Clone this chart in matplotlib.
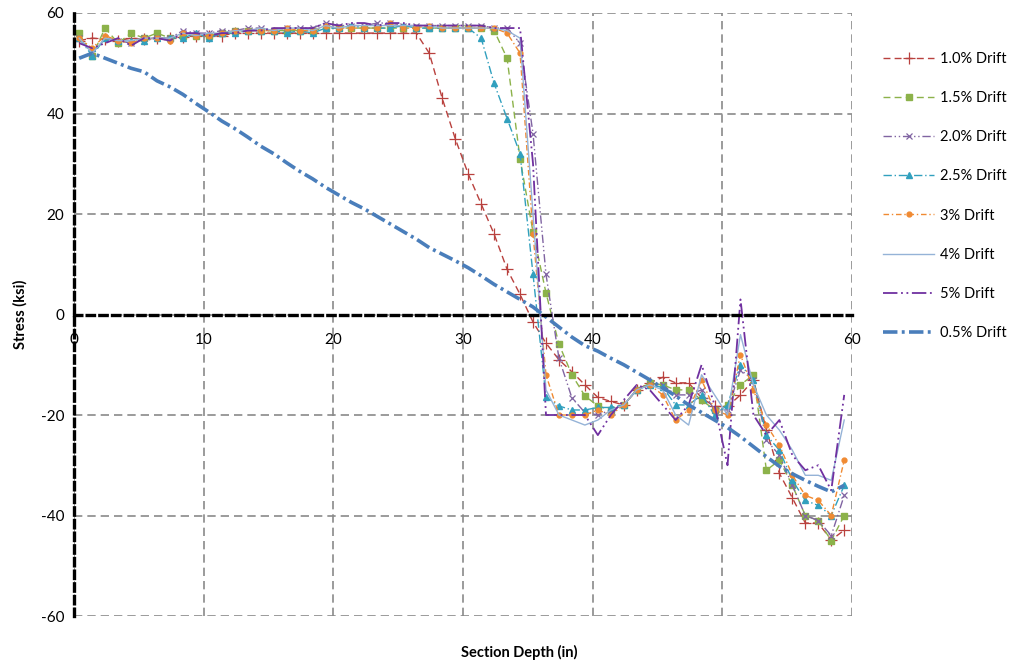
import numpy as np
import matplotlib
matplotlib.use("Agg")
import matplotlib.pyplot as plt

plt.rcParams['font.family'] = ['Lato', 'DejaVu Sans']
plt.rcParams['axes.unicode_minus'] = False

# section depth positions (in)
depth = [0.4, 1.4, 2.4, 3.4, 4.4, 5.4, 6.4, 7.4, 8.4, 9.4,
         10.4, 11.4, 12.4, 13.4, 14.4, 15.4, 16.4, 17.4, 18.4, 19.4,
         20.4, 21.4, 22.4, 23.4, 24.4, 25.4, 26.4, 27.4, 28.4, 29.4,
         30.4, 31.4, 32.4, 33.4, 34.4, 35.4, 36.4, 37.4, 38.4, 39.4,
         40.4, 41.4, 42.4, 43.4, 44.4, 45.4, 46.4, 47.4, 48.4, 49.4,
         50.4, 51.4, 52.4, 53.4, 54.4, 55.4, 56.4, 57.4, 58.4, 59.4]

# stress (ksi) per drift level
drift_10 = [54.5, 55, 54.8, 54.5, 55, 54.8, 55, 55, 55.2, 55.5,
            55.5, 55.5, 56, 56, 56, 56, 56, 56, 56, 56,
            56, 56, 56, 56, 56, 56, 56, 52, 43, 35,
            28, 22, 16, 9, 4, -1.5, -5.7, -9, -11.4, -14,
            -16.5, -17.3, -18, -15, -13.6, -12.5, -13.6, -13.6, -16.6, -18.3,
            -18.3, -16, -13, -23, -31.6, -36.5, -41.5, -41.5, -44.9, -42.9]
drift_15 = [56, 51.5, 57, 54, 56, 55, 56, 55, 55.5, 55.5,
            55.5, 56, 56.5, 56.5, 56.5, 56.5, 56.5, 56.5, 56.5, 57,
            57, 57, 57, 57, 57, 57, 57, 57, 57, 57,
            57, 57, 56.5, 51, 31, 16.4, 4.3, -5.9, -12, -16.2,
            -18.2, -19, -18, -15, -13.7, -14, -15, -15, -17, -19,
            -18, -14, -12, -31, -29, -34, -40, -41, -45, -40]
drift_20 = [55, 52, 55, 54.5, 54, 55, 55, 55, 56.5, 56,
            56, 56.5, 56.5, 57, 57, 56.5, 57, 57, 57, 58,
            57.5, 57.5, 57.5, 58, 58, 57.5, 57.5, 57.5, 57.5, 57.5,
            57.5, 57.5, 57, 57, 54, 36, 8, -8.7, -16.6, -19.5,
            -20, -19, -18, -15, -14, -14, -16, -16, -15, -19,
            -19, -11, -13, -25, -28, -34, -40, -41, -44, -36]
drift_25 = [55, 51.5, 55, 54.5, 54.5, 54.5, 55, 55, 55, 56,
            55, 56, 56, 56.5, 56.5, 56.5, 56, 56.5, 56, 57,
            57, 57.5, 57, 57, 57, 57.5, 57, 57, 57, 57,
            57, 55, 46, 39, 32, 8, -16.4, -18.2, -19, -19,
            -18.5, -18.5, -18, -15, -14, -14.5, -18, -18, -16, -20,
            -18, -10, -13, -24, -27, -33, -37, -38, -40, -34]
drift_30 = [55, 53, 55.5, 54.5, 54, 55, 55, 54.5, 56, 55.5,
            55.5, 56, 56.5, 56.5, 56.5, 56.5, 57, 56.5, 56.5, 57.5,
            57, 57, 57, 57, 58, 57, 57, 57.5, 57, 57,
            57, 57, 57, 56, 52, 16, -12, -20, -20, -20,
            -19, -20, -18, -15, -14, -16, -21, -19, -13, -19,
            -20, -8, -15, -22, -26, -32, -36, -37, -40, -29]
drift_40 = [55, 52, 55, 54.5, 54.5, 55, 55, 55, 56, 55.5,
            56, 56, 56.5, 56.5, 57, 56.5, 57, 57, 56.5, 57.5,
            57, 57.5, 57.5, 57.5, 57.5, 57.5, 57.5, 57.5, 57, 57,
            57, 57, 57, 56.5, 55, 20, -15, -20, -21, -22,
            -21, -19, -18, -15, -14, -15, -20, -22, -12, -16,
            -20, -4, -14, -20, -23, -27, -32, -32, -33, -21]
drift_50 = [54, 53, 54, 55, 53.5, 55, 55, 54.5, 56, 56,
            55.5, 56, 56, 56.5, 56.5, 57, 57, 57, 57, 58,
            57.5, 58, 58, 57.5, 58, 58, 57.5, 57.5, 57.5, 57.5,
            57.5, 57.5, 57, 57, 57, 30, -20, -20, -20, -20,
            -24, -20, -17, -14, -15, -18, -21, -18, -10, -18,
            -30, 3, -20, -24, -21, -28, -31, -30, -35, -16]
drift_05 = [51, 52, 51, 50, 49, 48.3, 46.5, 45.3, 43.8, 42,
            40.3, 38.5, 37, 35.3, 33.5, 32, 30.2, 28.5, 27, 25.3,
            23.8, 22.3, 21, 19.5, 18, 16.5, 15, 13.3, 12, 10.7,
            9.3, 7.7, 6, 4.5, 3, 1.5, -0.5, -2.5, -4.5, -6.2,
            -7.3, -8.7, -10, -11.5, -13, -14.6, -16.2, -18, -19.5, -21,
            -22.5, -24.3, -26.3, -28.3, -30.2, -31.7, -33, -34.2, -35.3, -34]

labels = ['1.0% Drift', '1.5% Drift', '2.0% Drift', '2.5% Drift',
          '3% Drift', '4% Drift', '5% Drift', '0.5% Drift']
x_ticks = [0, 10, 20, 30, 40, 50, 60]
y_ticks = [-60, -40, -20, 0, 20, 40, 60]

fig = plt.figure(figsize=(10.18, 6.68), dpi=100)
ax = fig.add_axes([74 / 1018, 1 - 616 / 668, (852 - 74) / 1018, (616 - 13) / 668])

styles = [
    dict(color='#B9413E', ls=(0, (5, 3)), lw=1.0, marker='+', ms=8, mew=0.9),
    dict(color='#8CB24A', ls=(0, (5, 3)), lw=1.0, marker='s', ms=5),
    dict(color='#8064A2', ls=(0, (6, 2, 1, 2, 1, 2)), lw=1.0, marker='x', ms=5, mew=0.9),
    dict(color='#31A0BE', ls=(0, (6, 2, 1, 2)), lw=1.0, marker='^', ms=4),
    dict(color='#F08A32', ls=(0, (4, 2, 1, 2)), lw=1.0, marker='o', ms=3.5),
    dict(color='#95B3D7', ls='-', lw=1.0),
    dict(color='#7030A0', ls=(0, (8, 2, 1, 2, 1, 2)), lw=1.3),
    dict(color='#4A7EBB', ls=(0, (4, 1.2, 0.8, 1.2)), lw=2.6),
]
series = [drift_10, drift_15, drift_20, drift_25, drift_30, drift_40, drift_50, drift_05]

handles = []
for vals, lab, st in zip(series, labels, styles):
    h, = ax.plot(depth, vals, label=lab, **st)
    handles.append(h)

ax.set_xlim(0, 60)
ax.set_ylim(-60, 60)
ax.set_xticks(x_ticks)
ax.set_yticks(y_ticks)
ax.grid(True, color='#8A8A8A', ls=(0, (5, 3)), lw=1.2)
ax.set_axisbelow(True)

for s in ['top', 'right']:
    ax.spines[s].set_visible(False)
ax.spines['bottom'].set_position(('data', 0))
for s in ['left', 'bottom']:
    ax.spines[s].set_color('black')
    ax.spines[s].set_linewidth(2.4)
    ax.spines[s].set_linestyle((0, (2.2, 1.6)))
    ax.spines[s].set_zorder(5)
ax.tick_params(length=0, labelsize=11, pad=7)
ax.tick_params(axis='x', pad=13)

fig.text(20 / 1018, 1 - 314 / 668, 'Stress (ksi)', rotation=90, ha='center', va='center',
         fontsize=10.5, fontweight='bold')
fig.text(519 / 1018, 1 - 652 / 668, 'Section Depth (in)', ha='center', va='center',
         fontsize=10.5, fontweight='bold')

fig.legend(handles=handles, loc='center left', bbox_to_anchor=(870 / 1018, 1 - 196 / 668),
           frameon=False, fontsize=10.5, labelspacing=1.72, handlelength=3.5,
           handletextpad=0.4, numpoints=1)

fig.savefig('out.png', dpi=100)
